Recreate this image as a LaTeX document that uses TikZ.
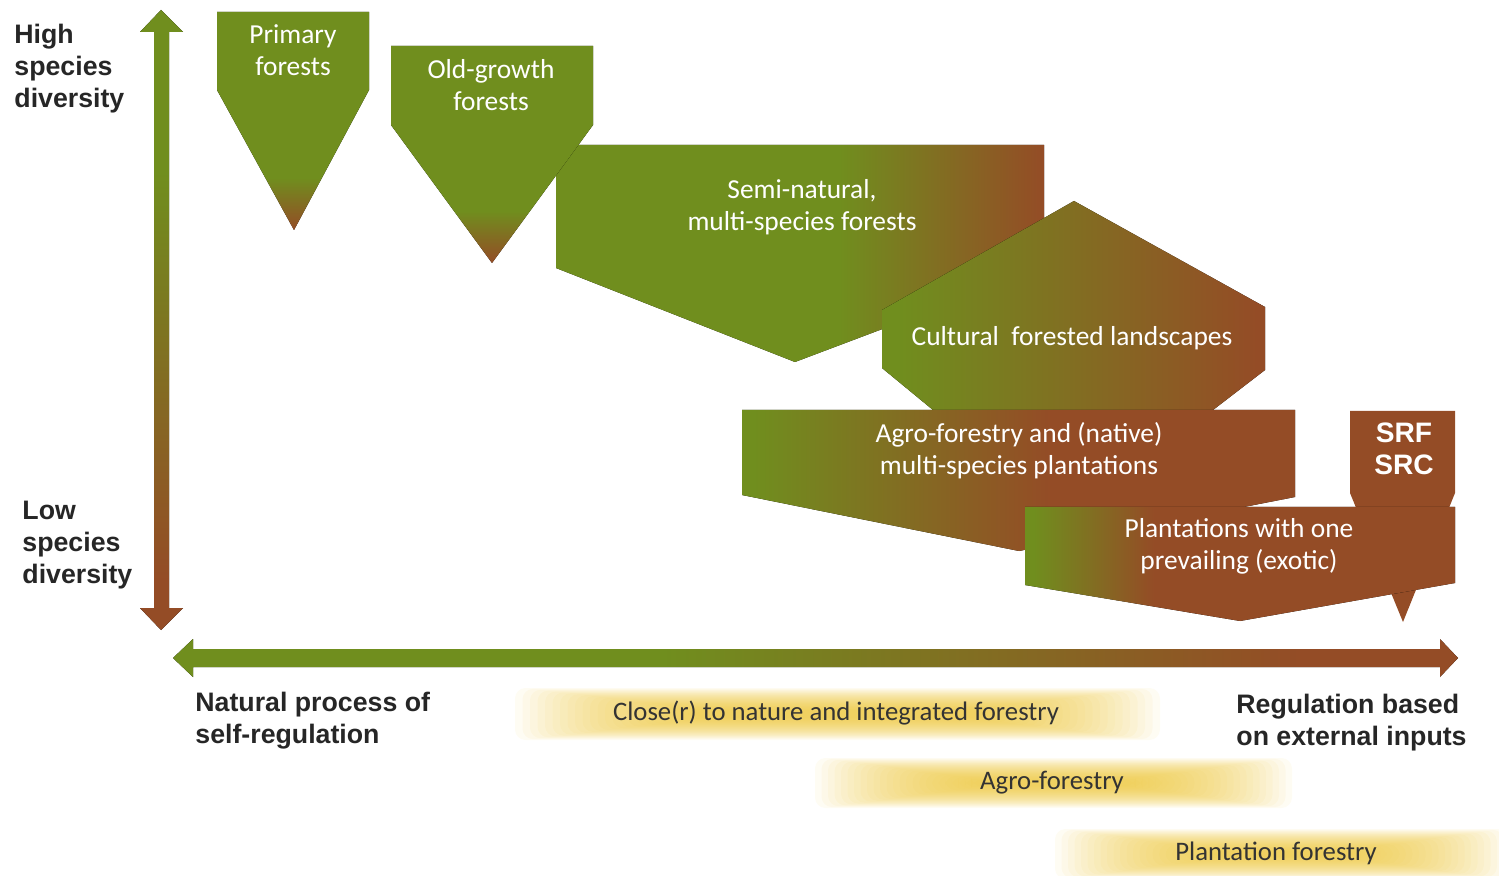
\documentclass[tikz,border=0pt]{standalone}
\usepackage{fontspec}
\setmainfont{Carlito}
\newfontfamily\axisfont{Liberation Sans}

\definecolor{fgreen}{RGB}{112,142,30}
\definecolor{fbrown}{RGB}{148,76,38}
\definecolor{bandgold}{RGB}{236,196,52}

% gradients (middle 25bp..75bp span the shape)
\pgfdeclareverticalshading{tipshade}{100bp}{color(0bp)=(fbrown); color(25bp)=(fbrown); color(37bp)=(fgreen); color(100bp)=(fgreen)}
\pgfdeclareverticalshading{vaxis}{100bp}{color(0bp)=(fbrown); color(29bp)=(fbrown); color(62bp)=(fgreen); color(100bp)=(fgreen)}
\pgfdeclarehorizontalshading{haxis}{100bp}{color(0bp)=(fgreen); color(44bp)=(fgreen); color(69bp)=(fbrown); color(100bp)=(fbrown)}
\pgfdeclarehorizontalshading{semishade}{100bp}{color(0bp)=(fgreen); color(54bp)=(fgreen); color(75bp)=(fbrown); color(100bp)=(fbrown)}
\pgfdeclarehorizontalshading{cultshade}{100bp}{color(0bp)=(fgreen); color(27bp)=(fgreen); color(74bp)=(fbrown); color(100bp)=(fbrown)}
\pgfdeclarehorizontalshading{agroshade}{100bp}{color(0bp)=(fgreen); color(26bp)=(fgreen); color(53bp)=(fbrown); color(100bp)=(fbrown)}
\pgfdeclarehorizontalshading{plantshade}{100bp}{color(0bp)=(fgreen); color(26bp)=(fgreen); color(40bp)=(fbrown); color(100bp)=(fbrown)}

\tikzset{
  shapelabel/.style={text=white, align=center, font=\fontsize{7.8}{9.1}\selectfont},
  axislabel/.style={align=left, anchor=west, text=black!85, font=\axisfont\bfseries\fontsize{7.6}{9.1}\selectfont},
  bandlabel/.style={text=black!80, font=\fontsize{7.6}{9}\selectfont},
  glow/.style={bandgold, opacity=0.06, rounded corners=3pt},
}

\begin{document}
\begin{tikzpicture}[x=0.01cm, y=-0.01cm]
  \useasboundingbox (0,0) rectangle (1499,876);

  % yellow bands
  \foreach \k in {0,...,24}
    \fill[glow] ({515+7.5*\k},{688+0.9*\k}) rectangle ({1160-7.5*\k},{740-0.9*\k});
  \foreach \k in {0,...,24}
    \fill[glow] ({815+6.5*\k},{758+0.9*\k}) rectangle ({1292-6.5*\k},{808-0.9*\k});
  \foreach \k in {0,...,24}
    \fill[glow] ({1055+6.5*\k},{829+0.9*\k}) rectangle ({1510-6.5*\k},{879-0.9*\k});

  % axes
  \fill[shading=vaxis] (161,10) -- (183,32) -- (169,32) -- (169,608) -- (183,608) -- (161,630)
    -- (140,608) -- (154,608) -- (154,32) -- (140,32) -- cycle;
  \fill[shading=haxis] (173,658) -- (193,639) -- (193,649) -- (1440,649) -- (1440,639) -- (1458,658)
    -- (1440,677) -- (1440,667) -- (193,667) -- (193,677) -- cycle;

  % forest types
  \fill[shading=semishade] (556,145) -- (1044,145) -- (1044,268) -- (795,362) -- (556,268) -- cycle;
  \fill[shading=tipshade] (391,46) -- (593,46) -- (593,125) -- (492,263) -- (391,125) -- cycle;
  \fill[shading=tipshade] (217,12) -- (369,12) -- (369,90) -- (294,230) -- (217,90) -- cycle;
  \fill[shading=cultshade] (1074,201) -- (1265,307) -- (1265,370) -- (1213,410) -- (933,410)
    -- (882,368) -- (882,310) -- cycle;
  \fill[shading=agroshade] (742,410) -- (1295,410) -- (1295,497) -- (1019,551) -- (742,495) -- cycle;
  \fill[fbrown] (1350,411) -- (1455,411) -- (1455,493) -- (1403,622) -- (1350,493) -- cycle;
  \fill[shading=plantshade] (1025,507) -- (1455,507) -- (1455,583) -- (1240,621) -- (1025,585) -- cycle;

  % labels in shapes
  \node[shapelabel] (primary) at (293,50) {Primary\\forests};
  \node[shapelabel] (oldgrowth) at (491,85) {Old-growth\\forests};
  \node[shapelabel] (seminat) at (802,207) {Semi-natural,\\multi-species forests};
  \node[shapelabel] (cultural) at (1072,338) {Cultural\ \ forested landscapes};
  \node[shapelabel] (agroplant) at (1019,451) {Agro-forestry and (native)\\multi-species plantations};
  \node[shapelabel, font=\axisfont\bfseries\fontsize{8}{9.1}\selectfont] (srf) at (1404,449) {SRF\\SRC};
  \node[shapelabel] (plantone) at (1239,546) {Plantations with one\\prevailing (exotic)};

  % axis labels
  \node[axislabel] (highdiv) at (2,69) {High\\species\\diversity};
  \node[axislabel] (lowdiv) at (10,545) {Low\\species\\diversity};
  \node[axislabel] (natproc) at (183,721) {Natural process of\\self-regulation};
  \node[axislabel] (extinputs) at (1224,723) {Regulation based\\on external inputs};

  % band labels
  \node[bandlabel] (closenat) at (836,713) {Close(r) to nature and integrated forestry};
  \node[bandlabel] (agrofor) at (1052,783) {Agro-forestry};
  \node[bandlabel] (plantfor) at (1276,853) {Plantation forestry};
\end{tikzpicture}
\end{document}
